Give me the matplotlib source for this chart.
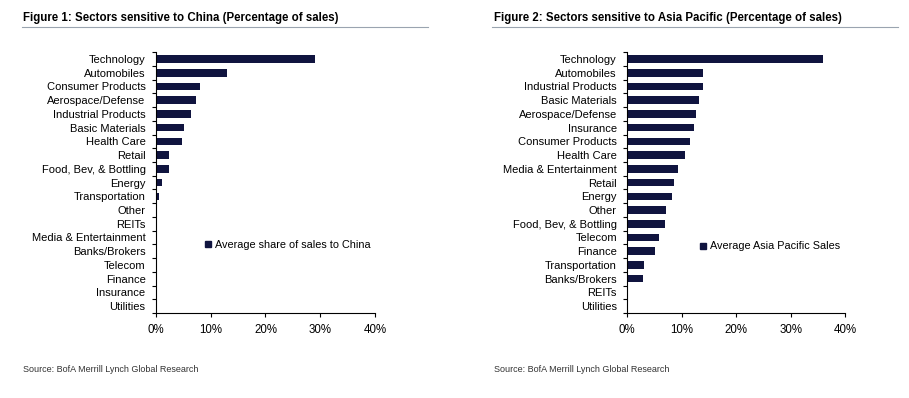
import matplotlib.pyplot as plt
from matplotlib import font_manager
from matplotlib.ticker import PercentFormatter
from matplotlib.lines import Line2D

names = {f.name for f in font_manager.fontManager.ttflist}
narrow = 'Liberation Sans Narrow' if 'Liberation Sans Narrow' in names else 'Liberation Sans'
plt.rcParams['font.family'] = [narrow, 'DejaVu Sans']

##################
## data

china_sectors = ['Technology', 'Automobiles', 'Consumer Products', 'Aerospace/Defense',
                 'Industrial Products', 'Basic Materials', 'Health Care', 'Retail',
                 'Food, Bev, & Bottling', 'Energy', 'Transportation', 'Other', 'REITs',
                 'Media & Entertainment', 'Banks/Brokers', 'Telecom', 'Finance',
                 'Insurance', 'Utilities']
china_sales = [29.0, 13.0, 8.0, 7.4, 6.4, 5.1, 4.8, 2.4, 2.3, 1.1, 0.5, 0.2, 0.0,
               0.0, 0.0, 0.0, 0.0, 0.0, 0.0]

apac_sectors = ['Technology', 'Automobiles', 'Industrial Products', 'Basic Materials',
                'Aerospace/Defense', 'Insurance', 'Consumer Products', 'Health Care',
                'Media & Entertainment', 'Retail', 'Energy', 'Other',
                'Food, Bev, & Bottling', 'Telecom', 'Finance', 'Transportation',
                'Banks/Brokers', 'REITs', 'Utilities']
apac_sales = [36.0, 14.0, 13.9, 13.1, 12.7, 12.3, 11.6, 10.6, 9.3, 8.5, 8.2, 7.1, 7.0,
              5.8, 5.1, 3.0, 2.8, 0.1, 0.0]

x_ticks = [0, 10, 20, 30, 40]

bar_color = '#10143f'
label_size = 8.0

fig = plt.figure(figsize=(9.09, 3.98), dpi=100)


def draw_panel(rect, sectors, values, legend_label, legend_pos):
    ax = fig.add_axes(rect)
    n = len(sectors)
    ypos = list(range(n))
    ax.barh(ypos, values, height=0.55, color=bar_color)
    ax.set_ylim(n - 0.5, -0.5)
    ax.set_xlim(0, 40)
    ax.set_xticks(x_ticks)
    ax.xaxis.set_major_formatter(PercentFormatter(decimals=0))
    ax.set_yticks(ypos)
    ax.set_yticklabels(sectors, fontsize=label_size)
    ax.set_yticks([i - 0.5 for i in range(n + 1)], minor=True)
    ax.tick_params(axis='y', which='major', length=0, pad=7.5)
    ax.tick_params(axis='y', which='minor', length=3, width=0.8)
    ax.tick_params(axis='x', length=3, width=0.8, labelsize=8.3, pad=5)
    for s in ['top', 'right']:
        ax.spines[s].set_visible(False)
    ax.spines['left'].set_linewidth(0.8)
    ax.spines['bottom'].set_linewidth(0.8)
    handle = Line2D([], [], marker='s', color=bar_color, linestyle='none', markersize=5)
    ax.legend([handle], [legend_label], loc='center left', bbox_to_anchor=legend_pos,
              frameon=False, fontsize=7.8, handletextpad=0.2, handlelength=0.8)
    return ax


draw_panel([0.1716, 0.2136, 0.2409, 0.6554], china_sectors, china_sales,
           'Average share of sales to China', (0.175, 0.26))
draw_panel([0.6901, 0.2136, 0.2395, 0.6554], apac_sectors, apac_sales,
           'Average Asia Pacific Sales', (0.285, 0.255))

# titles and source lines
fig.text(0.025, 0.955, 'Figure 1: Sectors sensitive to China (Percentage of sales)',
         fontsize=8.3, fontweight='bold', va='center')
fig.text(0.543, 0.955, 'Figure 2: Sectors sensitive to Asia Pacific (Percentage of sales)',
         fontsize=8.3, fontweight='bold', va='center')
fig.add_artist(Line2D([0.024, 0.471], [0.932, 0.932], color='#9aa4b0', linewidth=0.8))
fig.add_artist(Line2D([0.541, 0.988], [0.932, 0.932], color='#9aa4b0', linewidth=0.8))
fig.text(0.025, 0.065, 'Source: BofA Merrill Lynch Global Research', fontsize=6.5, color='#333333')
fig.text(0.543, 0.065, 'Source: BofA Merrill Lynch Global Research', fontsize=6.5, color='#333333')

plt.savefig('out.png', dpi=100)
